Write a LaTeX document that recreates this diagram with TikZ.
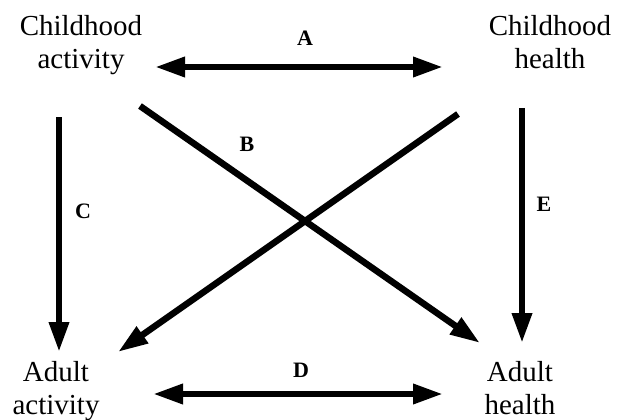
\documentclass[tikz,border=0pt]{standalone}
\usepackage{fontspec}
\setmainfont{Liberation Serif}
\usetikzlibrary{arrows.meta}
\begin{document}
\begin{tikzpicture}[x=1pt,y=-1pt,
  lbl/.style={font=\fontsize{29}{33.5}\selectfont, align=center, inner sep=0pt, anchor=north},
  tag/.style={font=\bfseries\fontsize{22}{26}\selectfont, inner sep=0pt},
  link/.style={line width=6.5pt, -{Triangle[length=30pt,width=19pt]}},
  both/.style={line width=6.5pt, {Triangle[length=30pt,width=19pt]}-{Triangle[length=30pt,width=19pt]}}]
\useasboundingbox (0,0) rectangle (627,420);
% concept nodes
\node[lbl] (ca) at (81,15) {Childhood\\activity};
\node[lbl] (ch) at (550,15) {Childhood\\health};
\node[lbl] (aa) at (56,361) {Adult\\activity};
\node[lbl] (ah) at (520,361) {Adult\\health};
% connector end points
\coordinate (a1) at (155,67);
\coordinate (a2) at (443,67);
\coordinate (d1) at (153,394);
\coordinate (d2) at (443,394);
\coordinate (c1) at (59,117);
\coordinate (c2) at (59,352);
\coordinate (e1) at (522,108);
\coordinate (e2) at (522,343);
\coordinate (b1) at (140,106);
\coordinate (b2) at (480,343);
\coordinate (x1) at (458,114);
\coordinate (x2) at (118,352);
% connectors
\draw[both] (a1) -- (a2);
\draw[both] (d1) -- (d2);
\draw[link] (c1) -- (c2);
\draw[link] (e1) -- (e2);
\draw[link] (b1) -- (b2);
\draw[link] (x1) -- (x2);
% labels
\node[tag] (la) at (305,38) {A};
\node[tag] (lb) at (247,144) {B};
\node[tag] (lc) at (83,211) {C};
\node[tag] (le) at (544,204) {E};
\node[tag] (ld) at (301,370) {D};
\end{tikzpicture}
\end{document}
